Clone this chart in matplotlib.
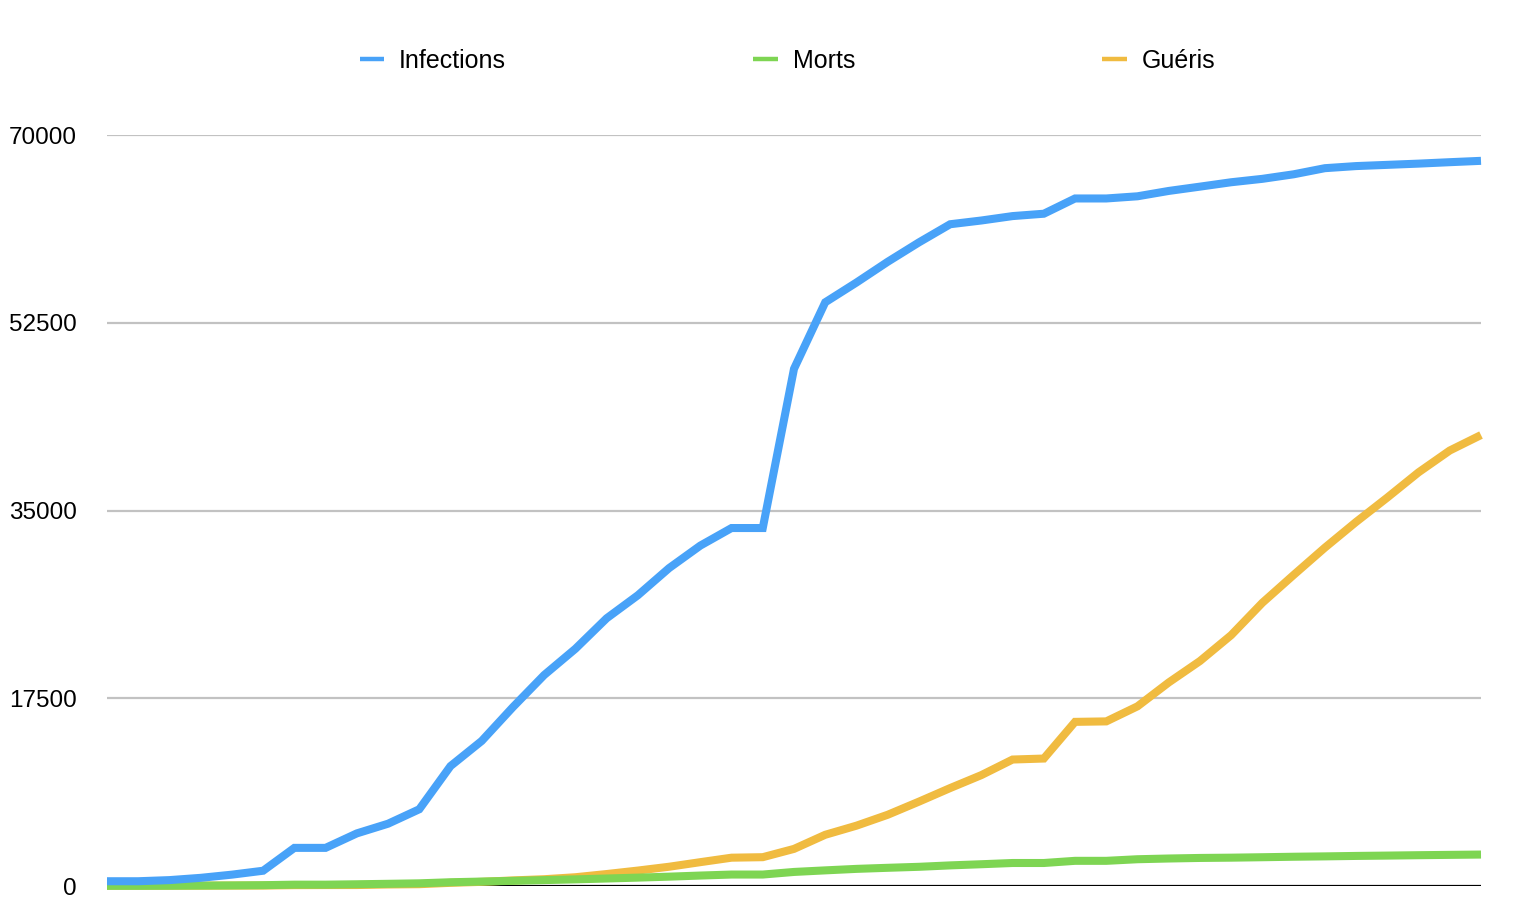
import matplotlib
matplotlib.use("Agg")
import matplotlib.pyplot as plt
import numpy as np

plt.rcParams['font.family'] = ['Liberation Sans', 'DejaVu Sans']

# jours (22 janv. -> 6 mars)
jours = np.arange(45)

infections = [444, 444, 549, 761, 1058, 1423, 3554, 3554, 4903, 5806,
              7153, 11177, 13522, 16678, 19665, 22112, 24953, 27100, 29631, 31728,
              33366, 33366, 48206, 54406, 56249, 58182, 59989, 61682, 62031, 62442,
              62662, 64084, 64084, 64287, 64786, 65187, 65596, 65914, 66337, 66907,
              67103, 67217, 67332, 67466, 67592]

morts = [17, 17, 24, 40, 52, 76, 125, 125, 162, 204,
         249, 350, 414, 479, 549, 618, 699, 780, 871, 974,
         1068, 1068, 1310, 1457, 1596, 1696, 1789, 1921, 2029, 2144,
         2144, 2346, 2346, 2495, 2563, 2615, 2641, 2682, 2727, 2761,
         2803, 2835, 2871, 2902, 2931]

gueris = [28, 28, 31, 32, 42, 45, 80, 88, 90, 141,
          168, 295, 386, 522, 633, 817, 1115, 1439, 1795, 2222,
          2639, 2686, 3459, 4774, 5623, 6639, 7862, 9128, 10337, 11788,
          11881, 15299, 15343, 16748, 18971, 20969, 23383, 26403, 28993, 31536,
          33934, 36208, 38557, 40592, 42033]

yticks = [0, 17500, 35000, 52500, 70000]

fig = plt.figure(figsize=(15.32, 9.22), dpi=100)
ax = fig.add_axes([107 / 1532, 36 / 922, (1481 - 107) / 1532, (886 - 135) / 922])

lw = 5.8
ax.plot(jours, gueris, color='#f0bb40', linewidth=lw, label='Guéris',
        zorder=3, clip_on=False, solid_capstyle='butt', solid_joinstyle='miter')
ax.plot(jours, morts, color='#7ed553', linewidth=lw, label='Morts',
        zorder=4, clip_on=False, solid_capstyle='butt', solid_joinstyle='miter')
ax.plot(jours, infections, color='#48a2f8', linewidth=lw, label='Infections',
        zorder=5, clip_on=False, solid_capstyle='butt', solid_joinstyle='miter')

ax.set_xlim(0, 44)
ax.set_ylim(0, 70000)
ax.set_yticks(yticks)
ax.set_yticklabels([str(v) for v in yticks])
ax.set_xticks([])
ax.tick_params(axis='y', length=0, pad=22, labelsize=17.5)

for v in yticks[1:]:
    ax.axhline(v, color='#c2c2c2', linewidth=1.6, zorder=1)
ax.axhline(0, color='black', linewidth=1.6, zorder=2)

for s in ax.spines.values():
    s.set_visible(False)

handles, labels = ax.get_legend_handles_labels()
order = [2, 1, 0]
leg = fig.legend([handles[i] for i in order], [labels[i] for i in order],
                 loc='center', bbox_to_anchor=(0.514, 0.934), ncol=3,
                 frameon=False, fontsize=18, handlelength=0.97,
                 handletextpad=0.6, columnspacing=9.9)
for h in leg.legend_handles:
    h.set_linewidth(3.2)

fig.savefig('out.png', dpi=100)
